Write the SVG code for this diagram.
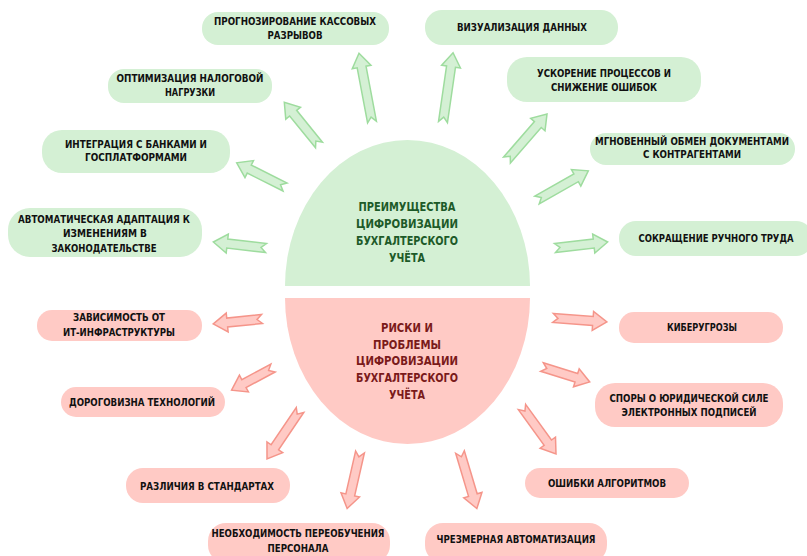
<svg xmlns="http://www.w3.org/2000/svg" width="807" height="556" viewBox="0 0 807 556">
<style>
text{font-family:"DejaVu Sans Condensed","DejaVu Sans",sans-serif;font-stretch:condensed;font-weight:bold;text-anchor:middle}
tspan,text{lengthAdjust:spacingAndGlyphs}
.nt{font-size:10.5px;fill:#111}
.ct{font-size:13px}
.g{fill:#d4f0d4}
.p{fill:#ffcac5}
.ga{fill:#d4f0d4;stroke:#9edc9e;stroke-width:1.5;stroke-linejoin:miter}
.pa{fill:#ffcac5;stroke:#f5958a;stroke-width:1.5;stroke-linejoin:miter}
</style>
<rect width="807" height="556" fill="#fff"/>
<g id="center-benefits">
<path class="g" d="M285,286 A122.5,146 0 0 1 530,286 Z"/>
<text class="ct" fill="#1d5a28"><tspan x="407" y="211" textLength="97" lengthAdjust="spacingAndGlyphs">ПРЕИМУЩЕСТВА</tspan><tspan x="407" y="228" textLength="102" lengthAdjust="spacingAndGlyphs">ЦИФРОВИЗАЦИИ</tspan><tspan x="407" y="245" textLength="102" lengthAdjust="spacingAndGlyphs">БУХГАЛТЕРСКОГО</tspan><tspan x="407" y="262" textLength="36" lengthAdjust="spacingAndGlyphs">УЧЁТА</tspan></text>
</g>
<g id="center-risks">
<path class="p" d="M285,298 A122.5,146 0 0 0 530,298 Z"/>
<text class="ct" fill="#7a1a1a"><tspan x="407" y="332" textLength="52" lengthAdjust="spacingAndGlyphs">РИСКИ И</tspan><tspan x="407" y="349" textLength="68" lengthAdjust="spacingAndGlyphs">ПРОБЛЕМЫ</tspan><tspan x="407" y="365" textLength="102" lengthAdjust="spacingAndGlyphs">ЦИФРОВИЗАЦИИ</tspan><tspan x="407" y="382" textLength="102" lengthAdjust="spacingAndGlyphs">БУХГАЛТЕРСКОГО</tspan><tspan x="407" y="399" textLength="36" lengthAdjust="spacingAndGlyphs">УЧЁТА</tspan></text>
</g>
<g id="connectors">
<path class="ga" transform="translate(372,122) rotate(-100.7)" d="M0,-4.5 L56,-4.5 L56,-9.5 L70,0 L56,9.5 L56,4.5 L0,4.5 L5,0 Z"/>
<path class="ga" transform="translate(443,122) rotate(-81.75)" d="M0,-4.5 L56,-4.5 L56,-9.5 L70,0 L56,9.5 L56,4.5 L0,4.5 L5,0 Z"/>
<path class="ga" transform="translate(319,145) rotate(-129.1)" d="M0,-4.5 L41,-4.5 L41,-9.5 L55,0 L41,9.5 L41,4.5 L0,4.5 L5,0 Z"/>
<path class="ga" transform="translate(507,160) rotate(-49)" d="M0,-4.5 L47,-4.5 L47,-9.5 L61,0 L47,9.5 L47,4.5 L0,4.5 L5,0 Z"/>
<path class="ga" transform="translate(537,200) rotate(-29.6)" d="M0,-4.5 L45,-4.5 L45,-9.5 L59,0 L45,9.5 L45,4.5 L0,4.5 L5,0 Z"/>
<path class="ga" transform="translate(555,248) rotate(-6.5)" d="M0,-4.5 L39,-4.5 L39,-9.5 L53,0 L39,9.5 L39,4.5 L0,4.5 L5,0 Z"/>
<path class="ga" transform="translate(285,187) rotate(-153.4)" d="M0,-4.5 L40,-4.5 L40,-9.5 L54,0 L40,9.5 L40,4.5 L0,4.5 L5,0 Z"/>
<path class="ga" transform="translate(266,248) rotate(-173.5)" d="M0,-4.5 L39,-4.5 L39,-9.5 L53,0 L39,9.5 L39,4.5 L0,4.5 L5,0 Z"/>
<path class="pa" transform="translate(262,319) rotate(174.2)" d="M0,-4.5 L35,-4.5 L35,-9.5 L49,0 L35,9.5 L35,4.5 L0,4.5 L5,0 Z"/>
<path class="pa" transform="translate(273,368) rotate(151.8)" d="M0,-4.5 L33,-4.5 L33,-9.5 L47,0 L33,9.5 L33,4.5 L0,4.5 L5,0 Z"/>
<path class="pa" transform="translate(553,318) rotate(4.2)" d="M0,-4.5 L40,-4.5 L40,-9.5 L54,0 L40,9.5 L40,4.5 L0,4.5 L5,0 Z"/>
<path class="pa" transform="translate(542,367) rotate(17.4)" d="M0,-4.5 L36,-4.5 L36,-9.5 L50,0 L36,9.5 L36,4.5 L0,4.5 L5,0 Z"/>
<path class="pa" transform="translate(300,410) rotate(124)" d="M0,-4.5 L45,-4.5 L45,-9.5 L59,0 L45,9.5 L45,4.5 L0,4.5 L5,0 Z"/>
<path class="pa" transform="translate(360,452) rotate(102.8)" d="M0,-4.5 L44,-4.5 L44,-9.5 L58,0 L44,9.5 L44,4.5 L0,4.5 L5,0 Z"/>
<path class="pa" transform="translate(460,452) rotate(73.4)" d="M0,-4.5 L45,-4.5 L45,-9.5 L59,0 L45,9.5 L45,4.5 L0,4.5 L5,0 Z"/>
<path class="pa" transform="translate(522,407) rotate(54.1)" d="M0,-4.5 L44,-4.5 L44,-9.5 L58,0 L44,9.5 L44,4.5 L0,4.5 L5,0 Z"/>
</g>
<g id="n-forecast"><rect class="g" x="202" y="12" width="187" height="33" rx="16"/><text class="nt"><tspan x="295" y="25" textLength="162" lengthAdjust="spacingAndGlyphs">ПРОГНОЗИРОВАНИЕ КАССОВЫХ</tspan><tspan x="295" y="39" textLength="55" lengthAdjust="spacingAndGlyphs">РАЗРЫВОВ</tspan></text></g>
<g id="n-visual"><rect class="g" x="425" y="10" width="193" height="35" rx="17"/><text class="nt" x="522" y="31" textLength="130" lengthAdjust="spacingAndGlyphs">ВИЗУАЛИЗАЦИЯ ДАННЫХ</text></g>
<g id="n-speed"><rect class="g" x="507" y="57" width="194" height="45" rx="20"/><text class="nt"><tspan x="604" y="77" textLength="134" lengthAdjust="spacingAndGlyphs">УСКОРЕНИЕ ПРОЦЕССОВ И</tspan><tspan x="604" y="91" textLength="106" lengthAdjust="spacingAndGlyphs">СНИЖЕНИЕ ОШИБОК</tspan></text></g>
<g id="n-tax"><rect class="g" x="108" y="69" width="164" height="34" rx="16"/><text class="nt"><tspan x="190" y="82" textLength="147" lengthAdjust="spacingAndGlyphs">ОПТИМИЗАЦИЯ НАЛОГОВОЙ</tspan><tspan x="190" y="96" textLength="50" lengthAdjust="spacingAndGlyphs">НАГРУЗКИ</tspan></text></g>
<g id="n-integr"><rect class="g" x="42" y="130" width="188" height="43" rx="20"/><text class="nt"><tspan x="136" y="148" textLength="142" lengthAdjust="spacingAndGlyphs">ИНТЕГРАЦИЯ С БАНКАМИ И</tspan><tspan x="136" y="161" textLength="102" lengthAdjust="spacingAndGlyphs">ГОСПЛАТФОРМАМИ</tspan></text></g>
<g id="n-adapt"><rect class="g" x="8" y="208" width="194" height="49" rx="22"/><text class="nt"><tspan x="104" y="223" textLength="172" lengthAdjust="spacingAndGlyphs">АВТОМАТИЧЕСКАЯ АДАПТАЦИЯ К</tspan><tspan x="105" y="237" textLength="84" lengthAdjust="spacingAndGlyphs">ИЗМЕНЕНИЯМ В</tspan><tspan x="104" y="252" textLength="105" lengthAdjust="spacingAndGlyphs">ЗАКОНОДАТЕЛЬСТВЕ</tspan></text></g>
<g id="n-exchange"><rect class="g" x="590" y="133" width="205" height="32" rx="16"/><text class="nt"><tspan x="692" y="145" textLength="194" lengthAdjust="spacingAndGlyphs">МГНОВЕННЫЙ ОБМЕН ДОКУМЕНТАМИ</tspan><tspan x="692" y="158" textLength="98" lengthAdjust="spacingAndGlyphs">С КОНТРАГЕНТАМИ</tspan></text></g>
<g id="n-manual"><rect class="g" x="619" y="221" width="194" height="35" rx="17"/><text class="nt" x="716" y="242" textLength="155" lengthAdjust="spacingAndGlyphs">СОКРАЩЕНИЕ РУЧНОГО ТРУДА</text></g>
<g id="n-infra"><rect class="p" x="37" y="310" width="165" height="31" rx="15"/><text class="nt"><tspan x="119" y="321" textLength="92" lengthAdjust="spacingAndGlyphs">ЗАВИСИМОСТЬ ОТ</tspan><tspan x="119" y="336" textLength="112" lengthAdjust="spacingAndGlyphs">ИТ-ИНФРАСТРУКТУРЫ</tspan></text></g>
<g id="n-cost"><rect class="p" x="61" y="387" width="164" height="30" rx="15"/><text class="nt" x="142" y="406" textLength="146" lengthAdjust="spacingAndGlyphs">ДОРОГОВИЗНА ТЕХНОЛОГИЙ</text></g>
<g id="n-cyber"><rect class="p" x="619" y="312" width="164" height="31" rx="15"/><text class="nt" x="702" y="331" textLength="70" lengthAdjust="spacingAndGlyphs">КИБЕРУГРОЗЫ</text></g>
<g id="n-sign"><rect class="p" x="595" y="383" width="188" height="44" rx="20"/><text class="nt"><tspan x="689" y="402" textLength="159" lengthAdjust="spacingAndGlyphs">СПОРЫ О ЮРИДИЧЕСКОЙ СИЛЕ</tspan><tspan x="689" y="416" textLength="135" lengthAdjust="spacingAndGlyphs">ЭЛЕКТРОННЫХ ПОДПИСЕЙ</tspan></text></g>
<g id="n-standards"><rect class="p" x="126" y="468" width="164" height="35" rx="17"/><text class="nt" x="207" y="490" textLength="134" lengthAdjust="spacingAndGlyphs">РАЗЛИЧИЯ В СТАНДАРТАХ</text></g>
<g id="n-training"><rect class="p" x="208" y="523" width="182" height="40" rx="18"/><text class="nt"><tspan x="298" y="537" textLength="173" lengthAdjust="spacingAndGlyphs">НЕОБХОДИМОСТЬ ПЕРЕОБУЧЕНИЯ</tspan><tspan x="298" y="552" textLength="61" lengthAdjust="spacingAndGlyphs">ПЕРСОНАЛА</tspan></text></g>
<g id="n-automation"><rect class="p" x="425" y="523" width="182" height="40" rx="18"/><text class="nt" x="516" y="543" textLength="159" lengthAdjust="spacingAndGlyphs">ЧРЕЗМЕРНАЯ АВТОМАТИЗАЦИЯ</text></g>
<g id="n-algo"><rect class="p" x="525" y="468" width="164" height="30" rx="15"/><text class="nt" x="607" y="487" textLength="118" lengthAdjust="spacingAndGlyphs">ОШИБКИ АЛГОРИТМОВ</text></g>
</svg>
